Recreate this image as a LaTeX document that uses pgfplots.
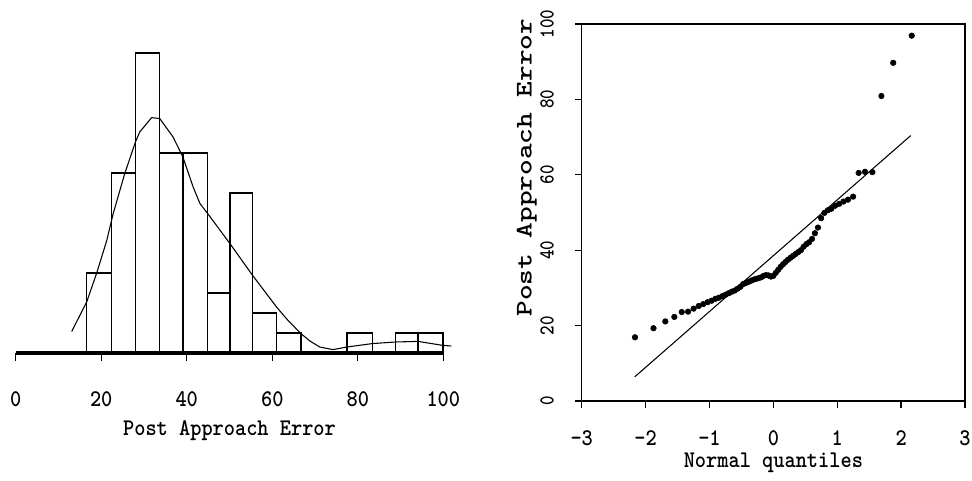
\documentclass[border=0pt]{standalone}
\usepackage{pgfplots}
\pgfplotsset{compat=1.18}
\usepackage{fontspec}
\newcommand{\lblfont}{\ttfamily\bfseries\fontsize{16}{18}\selectfont}
\newcommand{\tl}[1]{\textbf{\texttt{#1}}}
\begin{document}
\begin{tikzpicture}
\path[use as bounding box] (0,0) rectangle (729pt,360.75pt);
% ---------------- left: histogram ----------------
\begin{axis}[
  at={(11.775pt,96pt)}, anchor=south west,
  scale only axis, width=320.7pt, height=225pt,
  xmin=0, xmax=100, ymin=0, ymax=15,
  clip=false,
  axis x line=bottom, axis y line=none,
  axis line style={line width=1pt,-},
  xtick={0,20,40,60,80,100},
  xticklabels={\tl{0},\tl{20},\tl{40},\tl{60},\tl{80},\tl{100}},
  tick align=outside, major tick length=6pt,
  tick style={line width=1pt,black},
  xticklabel style={font=\lblfont, anchor=center, inner sep=0pt, yshift=-29pt, yscale=1.12},
  every axis x label/.style={at={(axis description cs:0.5,0)}, anchor=center, inner sep=0pt, yshift=-58pt, font=\lblfont, yscale=1.12},
  xlabel={Post Approach Error},
]
\addplot[ybar interval, fill=white, draw=black, line width=1pt] coordinates {
(16.6,4) (22.4,9) (28.0,15) (33.7,10) (39.1,10) (44.9,3) (50.1,8) (55.4,2)
(61.0,1) (66.7,0) (72.1,0) (77.5,1) (83.4,0) (88.8,1) (94.1,1) (99.9,0)
};
\addplot[black, line width=0.8pt, sharp plot] coordinates {
(13.1,1.08) (16.6,2.55) (18.9,3.97) (21.3,5.63) (22.8,6.97) (25.5,8.97)
(28.0,10.55) (29.0,11.05) (31.8,11.77) (33.7,11.72) (36.8,10.8) (39.1,9.8)
(41.5,8.3) (43.1,7.47) (44.9,6.97) (50.1,5.47) (55.4,3.88) (61.0,2.3)
(63.3,1.72) (66.7,0.97) (68.8,0.6) (71.1,0.3) (74.2,0.17) (77.5,0.3)
(83.4,0.47) (88.8,0.55) (94.1,0.58) (99.9,0.38) (101.9,0.35)
};
\draw[line width=3pt] (axis cs:0,0) -- (axis cs:100,0);
\end{axis}
% ---------------- right: normal QQ plot ----------------
\begin{axis}[
  at={(436.275pt,60pt)}, anchor=south west,
  scale only axis, width=287.5pt, height=282.75pt,
  xmin=-3, xmax=3, ymin=0, ymax=100,
  axis line style={line width=1pt},
  tick pos=left, tick align=outside, major tick length=5pt,
  tick style={line width=1pt,black},
  xtick={-3,-2,-1,0,1,2,3},
  xticklabels={\tl{-3},\tl{-2},\tl{-1},\tl{0},\tl{1},\tl{2},\tl{3}},
  ytick={0,20,40,60,80,100},
  yticklabels={\tl{0},\tl{20},\tl{40},\tl{60},\tl{80},\tl{100}},
  xticklabel style={font=\lblfont, anchor=center, inner sep=0pt, yshift=-22.75pt, yscale=1.12},
  yticklabel style={font=\lblfont, inner sep=0pt, xshift=-21pt, rotate=90, anchor=center, xscale=0.85, yscale=1.0},
  every axis x label/.style={at={(axis description cs:0.5,0)}, anchor=center, inner sep=0pt, yshift=-46pt, font=\lblfont, yscale=1.12},
  every axis y label/.style={at={(axis description cs:0,0.619)}, xshift=-41.25pt, rotate=90, anchor=center, inner sep=0pt, font=\lblfont, xscale=1.40, yscale=1.12},
  xlabel={Normal quantiles},
  ylabel={Post Approach Error},
]
\addplot[black, line width=0.8pt] coordinates {(-2.17,6.4) (2.15,70.4)};
\addplot[only marks, mark=*, mark size=2.1pt, black] coordinates {
(-2.166,16.9) (-1.876,19.3) (-1.691,21.1) (-1.550,22.3) (-1.434,23.6)
(-1.335,23.7) (-1.248,24.5) (-1.168,25.2) (-1.097,25.7) (-1.030,26.2)
(-0.967,26.6) (-0.908,27.1) (-0.853,27.4) (-0.799,27.8) (-0.748,28.2)
(-0.698,28.6) (-0.650,29.0) (-0.605,29.3) (-0.559,29.8) (-0.516,30.3)
(-0.473,31.0) (-0.431,31.3) (-0.390,31.6) (-0.349,31.9) (-0.309,32.2)
(-0.270,32.4) (-0.230,32.6) (-0.191,32.8) (-0.153,33.2) (-0.114,33.4)
(-0.076,33.3) (-0.038,33.0) (0.000,33.2) (0.038,34.0) (0.076,34.8)
(0.114,35.6) (0.153,36.3) (0.191,36.9) (0.230,37.5) (0.270,38.0)
(0.309,38.5) (0.349,39.0) (0.390,39.5) (0.431,40.0) (0.473,40.9)
(0.516,41.6) (0.559,42.1) (0.605,43.0) (0.650,44.5) (0.698,46.0)
(0.748,48.5) (0.799,49.9) (0.853,50.6) (0.908,51.0) (0.967,51.8)
(1.030,52.3) (1.097,52.9) (1.168,53.4) (1.248,54.2) (1.335,60.5)
(1.434,60.8) (1.550,60.7) (1.691,80.9) (1.876,89.7) (2.166,96.9)
};
\end{axis}
\end{tikzpicture}
\end{document}
